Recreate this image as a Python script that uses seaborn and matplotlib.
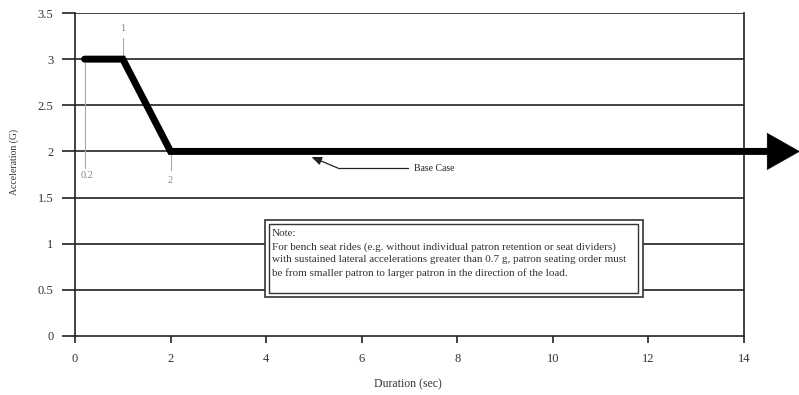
import matplotlib
matplotlib.use("Agg")
import matplotlib.pyplot as plt
import seaborn as sns
import pandas as pd
from matplotlib.patches import Rectangle

sns.set_theme(style="white")
plt.rcParams['font.family'] = ['Liberation Serif', 'DejaVu Serif']

# data
duration = [0.2, 1, 2, 14.5]
acceleration = [3, 3, 2, 2]
x_ticks = [0, 2, 4, 6, 8, 10, 12, 14]
y_ticks = [0, 0.5, 1, 1.5, 2, 2.5, 3, 3.5]
y_tick_labels = ["0", "0.5", "1", "1.5", "2", "2.5", "3", "3.5"]
note_text = ("Note:\n"
             "For bench seat rides (e.g. without individual patron retention or seat dividers)\n"
             "with sustained lateral accelerations greater than 0.7 g, patron seating order must\n"
             "be from smaller patron to larger patron in the direction of the load.")

df = pd.DataFrame({"Duration": duration, "Acceleration": acceleration})

fig = plt.figure(figsize=(7.99, 3.95), dpi=100)
ax = fig.add_axes([75/799, 59/395, 669/799, 323/395])

ax.set_xlim(0, 14)
ax.set_ylim(0, 3.5)
ax.set_xticks(x_ticks)
ax.set_yticks(y_ticks)
ax.set_yticklabels(y_tick_labels)
ax.grid(False)
for yv in y_ticks[1:]:
    ax.axhline(yv, color="#333333", lw=1.3, zorder=1)

for s in ["left", "bottom", "right"]:
    ax.spines[s].set_color("#222222")
    ax.spines[s].set_linewidth(1.2)
ax.spines["top"].set_visible(False)

ax.tick_params(axis="y", direction="out", length=9.5, width=1.3, color="#333333",
               labelsize=9, labelcolor="#333333", pad=6, left=True)
ax.tick_params(axis="x", direction="out", length=5, width=1.2, color="#222222",
               labelsize=9, labelcolor="#333333", pad=7, bottom=True)

sns.lineplot(data=df, x="Duration", y="Acceleration", ax=ax, color="black",
             lw=5, sort=False, clip_on=False, zorder=5, solid_joinstyle="miter")
ax.annotate("", xy=(15.17, 2), xytext=(14.4, 2),
            arrowprops=dict(arrowstyle="-|>,head_length=2.3,head_width=1.3",
                            mutation_scale=10, color="black", lw=0.5, shrinkA=0, shrinkB=0),
            annotation_clip=False, zorder=6)

ax.set_xlabel("Duration (sec)", fontsize=8.5, color="#333333")
ax.set_ylabel("Acceleration (G)", fontsize=7, color="#333333")
ax.xaxis.set_label_coords(0.497, -0.132)
ax.yaxis.set_label_coords(-0.083, 0.54)

# point labels
gray = "#aaaaaa"
ax.plot([1, 1], [3.0, 3.23], color=gray, lw=0.8, zorder=4)
ax.text(1, 3.33, "1", ha="center", va="center", fontsize=7.5, color="#888888")
ax.plot([0.2, 0.2], [2.96, 1.82], color=gray, lw=0.8, zorder=4)
ax.text(0.25, 1.74, "0.2", ha="center", va="center", fontsize=7.5, color="#888888")
ax.plot([2, 2], [1.98, 1.8], color=gray, lw=0.8, zorder=4)
ax.text(2, 1.68, "2", ha="center", va="center", fontsize=7.5, color="#888888")

# base case annotation
ax.text(7.1, 1.82, "Base Case", fontsize=7, color="#222222", va="center", ha="left")
ax.plot([6.97, 5.5], [1.82, 1.82], color="#222222", lw=0.9, zorder=6)
ax.annotate("", xy=(4.95, 1.94), xytext=(5.5, 1.82),
            arrowprops=dict(arrowstyle="-|>,head_length=0.6,head_width=0.25",
                            mutation_scale=10, color="#222222", lw=0.9,
                            shrinkA=0, shrinkB=0), zorder=6)

# note box
ax.add_patch(Rectangle((3.97, 0.42), 7.91, 0.837, facecolor="white",
                       edgecolor="#333333", lw=1.2, zorder=7))
ax.add_patch(Rectangle((4.06, 0.463), 7.73, 0.751, facecolor="white",
                       edgecolor="#333333", lw=1.0, zorder=8))
ax.text(4.12, 1.155, note_text, fontsize=8, color="#333333", va="top", ha="left",
        linespacing=1.5, zorder=9)

fig.savefig("out.png", dpi=100)
